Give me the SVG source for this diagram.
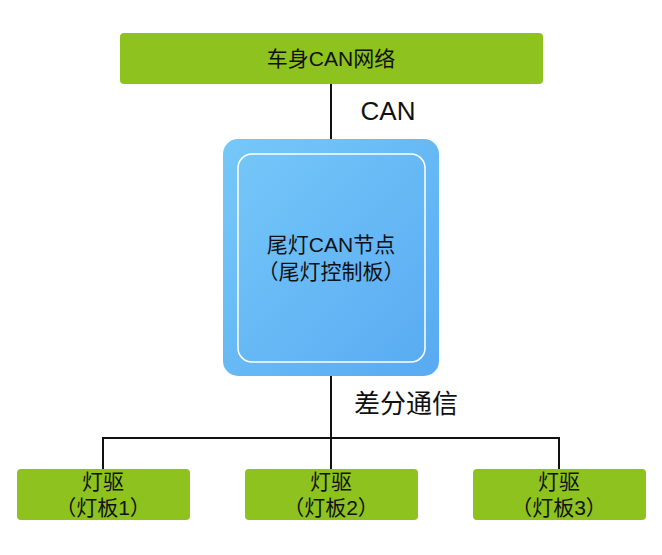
<svg xmlns="http://www.w3.org/2000/svg" width="662" height="555" viewBox="0 0 662 555">
<defs>
<linearGradient id="blue" x1="0" y1="0" x2="1" y2="1">
<stop offset="0" stop-color="#76C8F9"/>
<stop offset="1" stop-color="#58AAF2"/>
</linearGradient>
<style>
.g{fill:#8DC21F;}
.t{font-family:"Liberation Sans","Noto Sans CJK SC",sans-serif;fill:#111;text-anchor:middle;}
.p{font-family:"Noto Sans CJK SC",sans-serif;text-spacing-trim:space-all;}
.ln{stroke:#111;stroke-width:2;fill:none;}
</style>
</defs>
<rect width="662" height="555" fill="#fff"/>
<g id="connectors">
<path class="ln" d="M331 84V140"/>
<path class="ln" d="M331 376V469"/>
<path class="ln" d="M103 469V438H559V469"/>
<text class="t" x="388" y="120" font-size="26">CAN</text>
<text class="t" x="406" y="413" font-size="26">差分通信</text>
</g>
<g id="bus">
<rect class="g" x="120" y="33" width="423" height="51" rx="4"/>
<text class="t" x="331" y="66" font-size="21">车身CAN网络</text>
</g>
<g id="node">
<rect x="223" y="139" width="216" height="237" rx="15" fill="url(#blue)"/>
<rect x="238" y="154" width="187" height="208" rx="14" fill="none" stroke="#fff" stroke-width="1.5"/>
<text class="t" x="331" y="252" font-size="21">尾灯CAN节点</text>
<text class="t p" x="331" y="279" font-size="21">（尾灯控制板）</text>
</g>
<g id="drv1">
<rect class="g" x="17" y="469" width="173" height="51" rx="4"/>
<text class="t" x="103" y="489" font-size="21">灯驱</text>
<text class="t" x="103" y="515" font-size="21"><tspan class="p">（</tspan>灯板1<tspan class="p">）</tspan></text>
</g>
<g id="drv2">
<rect class="g" x="245" y="469" width="173" height="51" rx="4"/>
<text class="t" x="331" y="489" font-size="21">灯驱</text>
<text class="t" x="331" y="515" font-size="21"><tspan class="p">（</tspan>灯板2<tspan class="p">）</tspan></text>
</g>
<g id="drv3">
<rect class="g" x="473" y="469" width="173" height="51" rx="4"/>
<text class="t" x="559" y="489" font-size="21">灯驱</text>
<text class="t" x="559" y="515" font-size="21"><tspan class="p">（</tspan>灯板3<tspan class="p">）</tspan></text>
</g>
</svg>
